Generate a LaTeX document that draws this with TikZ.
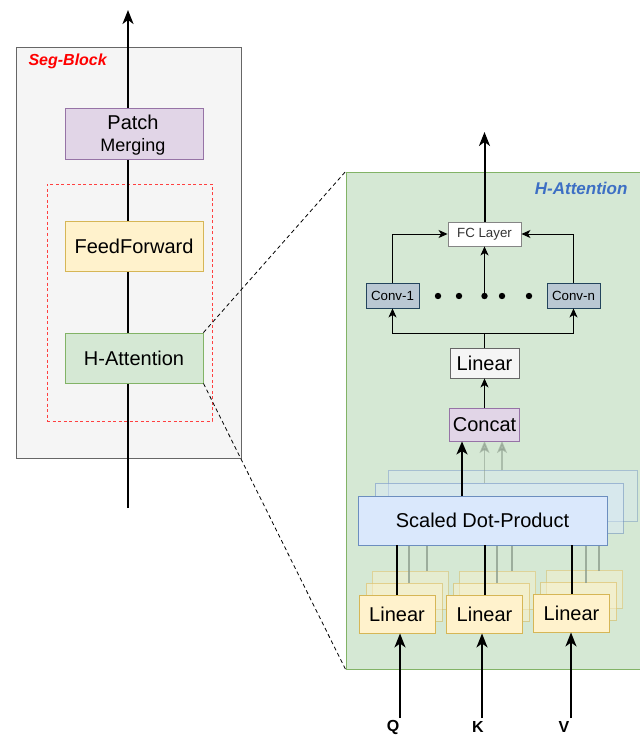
\documentclass[tikz,border=0pt]{standalone}
\usepackage{fontspec}
\setmainfont{Liberation Sans}
\usetikzlibrary{arrows.meta}
\definecolor{segfill}{HTML}{F5F5F5}
\definecolor{segdraw}{HTML}{666666}
\definecolor{purfill}{HTML}{E1D5E7}
\definecolor{purdraw}{HTML}{9673A6}
\definecolor{yelfill}{HTML}{FFF2CC}
\definecolor{yeldraw}{HTML}{D6B656}
\definecolor{grnfill}{HTML}{D5E8D4}
\definecolor{grndraw}{HTML}{82B366}
\definecolor{blufill}{HTML}{DAE8FC}
\definecolor{bludraw}{HTML}{6C8EBF}
\definecolor{convfill}{HTML}{BAC8D3}
\definecolor{convdraw}{HTML}{23445D}
\definecolor{titleblue}{HTML}{3D6FC4}
\definecolor{graylinec}{HTML}{8A9A8A}
\tikzset{
  box/.style={draw, rectangle, inner sep=0pt, line width=0.9pt, align=center},
  bigtxt/.style={font=\fontsize{20}{22}\selectfont},
  smalltxt/.style={font=\fontsize{13.3}{15}\selectfont},
  bigarrow/.style={line width=2pt, -{Stealth[length=14pt,width=11pt,inset=4pt]}},
  thinarrow/.style={line width=1pt, -{Stealth[length=9pt,width=8pt,inset=2.5pt]}},
  thickline/.style={line width=2pt},
  thinline/.style={line width=1pt},
  grayline/.style={line width=1.6pt, draw=graylinec, opacity=0.75},
  grayarrow/.style={line width=1.6pt, draw=graylinec, opacity=0.55, -{Stealth[length=12pt,width=10pt,inset=3pt]}},
  zoomline/.style={line width=0.8pt, dash pattern=on 4pt off 3pt},
  qkv/.style={font=\fontsize{16}{18}\selectfont\bfseries},
}
\begin{document}
\begin{tikzpicture}[x=1pt,y=-1pt]
\useasboundingbox (0,0) rectangle (639,735);
\fill[white] (0,0) rectangle (639,735);

% ---------------- Left: Seg-Block ----------------
\node[box, draw=segdraw, fill=segfill, minimum width=225pt, minimum height=411pt] (seg) at (128.5,252.5) {};
\node[anchor=west, text=red, font=\fontsize{16}{18}\selectfont\bfseries\itshape] (segtitle) at (25,61) {Seg-Block};
\node[draw=red!75, line width=0.9pt, dash pattern=on 3pt off 2.5pt, rectangle, minimum width=165pt, minimum height=237pt, inner sep=0pt] (redbox) at (129.5,302.5) {};

\coordinate (inL) at (128,508);
\coordinate (outL) at (128,10);
\draw[bigarrow] (inL) -- (outL);

\node[box, draw=purdraw, fill=purfill, minimum width=138pt, minimum height=51pt] (pm) at (134,133.5) {};
\node[font=\fontsize{20}{22}\selectfont] (pmt1) at (133,122) {Patch};
\node[font=\fontsize{18}{20}\selectfont] (pmt2) at (133,147) {Merging};
\node[box, bigtxt, draw=yeldraw, fill=yelfill, minimum width=138pt, minimum height=50pt] (ff) at (134,246) {FeedForward};
\node[box, bigtxt, draw=grndraw, fill=grnfill, minimum width=138pt, minimum height=50pt] (ha) at (134,358) {H-Attention};

% ---------------- Right: H-Attention detail ----------------
\node[box, draw=grndraw, fill=grnfill, minimum width=295pt, minimum height=497pt] (hab) at (493.5,420.5) {};
\node[anchor=east, text=titleblue, font=\fontsize{17}{19}\selectfont\bfseries\itshape] (habtitle) at (631,188) {H-Attention};

\draw[zoomline] (ha.north east) -- (hab.north west);
\draw[zoomline] (ha.south east) -- (hab.south west);

% FC layer and output
\node[box, smalltxt, draw=segdraw!80, fill=white, text=black!80, minimum width=73pt, minimum height=24pt] (fc) at (484.5,234) {FC Layer};
\coordinate (outR) at (484.5,132);
\draw[bigarrow] (fc.north) -- (outR);

% Conv
\node[box, smalltxt, draw=convdraw, fill=convfill, minimum width=53pt, minimum height=25pt] (c1) at (392.5,295.5) {Conv-1};
\node[box, smalltxt, draw=convdraw, fill=convfill, minimum width=53pt, minimum height=25pt] (cn) at (573.5,295.5) {Conv-n};
\foreach \i/\x in {1/438,2/459,3/484.5,4/502,5/529}
  \fill (\x,296) circle (3.2pt) coordinate (dot\i);
\draw[thinarrow] (c1.north) |- (fc.west);
\draw[thinarrow] (cn.north) |- (fc.east);
\draw[thinarrow] (dot3) -- (fc.south);

% Linear (top)
\node[box, bigtxt, draw=segdraw, fill=segfill, minimum width=69pt, minimum height=30pt] (lin) at (484.5,363) {Linear};
\coordinate (split) at (484.5,333);
\draw[thinline] (lin.north) -- (split);
\draw[thinarrow] (split) -| (c1.south);
\draw[thinarrow] (split) -| (cn.south);

% Concat
\node[box, bigtxt, draw=purdraw, fill=purfill, minimum width=70pt, minimum height=33pt] (cc) at (484.5,424.5) {Concat};
\draw[thinarrow] (cc.north) -- (lin.south);

% Scaled Dot-Product stack
\node[box, draw=bludraw, fill=blufill, fill opacity=0.35, draw opacity=0.45, minimum width=249pt, minimum height=51pt] (sdp3) at (512.5,495.5) {};
\node[box, draw=bludraw, fill=blufill, fill opacity=0.45, draw opacity=0.55, minimum width=248pt, minimum height=50pt] (sdp2) at (499,508) {};
\coordinate (g1top) at (484.5,441);
\coordinate (g2top) at (502,441);
\draw[grayarrow] (484.5,483) coordinate (g1b) -- (g1top);
\draw[grayarrow] (502,470) coordinate (g2b) -- (g2top);
\node[box, bigtxt, draw=bludraw, fill=blufill, minimum width=249pt, minimum height=49pt] (sdp) at (482.5,520.5) {Scaled Dot-Product};
\coordinate (sdpout) at (462,496);
\draw[line width=2pt, -{Stealth[length=13pt,width=11pt,inset=3.5pt]}] (sdpout) -- (sdpout |- cc.south);

% Linear Q K V stacks
\foreach \n/\cx/\cy in {q/397/614, k/484.5/614, v/571.5/613}{
  \node[box, draw=yeldraw, fill=yelfill, fill opacity=0.4, draw opacity=0.45, minimum width=76pt, minimum height=38pt] (\n3) at (\cx+13,\cy-24) {};
  \node[box, draw=yeldraw, fill=yelfill, fill opacity=0.5, draw opacity=0.55, minimum width=76pt, minimum height=38pt] (\n2) at (\cx+7,\cy-12) {};
}
% gray lines from copies to SDP
\foreach \n/\xa/\xb in {q/409/427, k/497/512, v/586/599}{
  \draw[grayline] (\xa,583) -- (\xa,545.5);
  \draw[grayline] (\xb,571) -- (\xb,545.5);
}
\node[box, bigtxt, draw=yeldraw, fill=yelfill, minimum width=76pt, minimum height=38pt] (lq) at (397,614) {Linear};
\node[box, bigtxt, draw=yeldraw, fill=yelfill, minimum width=76pt, minimum height=38pt] (lk) at (484.5,614) {Linear};
\node[box, bigtxt, draw=yeldraw, fill=yelfill, minimum width=76pt, minimum height=38pt] (lv) at (571.5,613) {Linear};
\draw[thickline] (lq.north) -- (lq.north |- sdp.south);
\draw[thickline] (lk.north) -- (lk.north |- sdp.south);
\draw[thickline] (lv.north) -- (lv.north |- sdp.south);

% Inputs
\node[qkv] (Q) at (393,727) {Q};
\node[qkv] (K) at (478,727) {K};
\node[qkv] (V) at (564,727) {V};
\coordinate (qin) at (400,718);
\coordinate (kin) at (482,718);
\coordinate (vin) at (571,718);
\draw[bigarrow] (qin) -- (qin |- lq.south);
\draw[bigarrow] (kin) -- (kin |- lk.south);
\draw[bigarrow] (vin) -- (vin |- lv.south);
\end{tikzpicture}
\end{document}
